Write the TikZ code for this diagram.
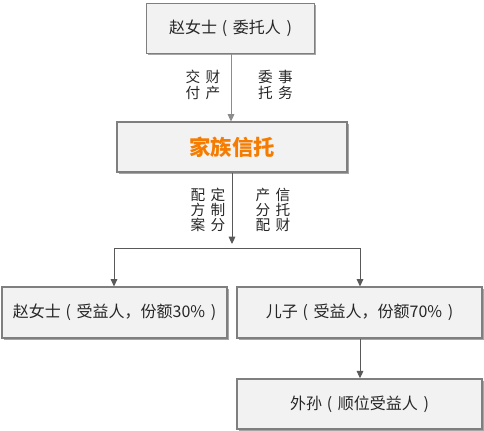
\documentclass[tikz,border=0pt]{standalone}
\usepackage{fontspec}
\setmainfont{Noto Sans CJK SC}
\usetikzlibrary{shadows,arrows.meta}
\definecolor{boxfill}{HTML}{F2F2F2}
\definecolor{boxline}{HTML}{7F7F7F}
\definecolor{lineA}{HTML}{8C8C8C}
\definecolor{lineB}{HTML}{595959}
\definecolor{txt}{HTML}{262626}
\definecolor{trustorange}{HTML}{F57C00}
\newcommand{\myLP}{\hspace{0.3em}(\hspace{0.35em}}
\newcommand{\myRP}{\hspace{0.35em})\hspace{0.3em}}
\tikzset{
  box/.style={draw=boxline, line width=1.1pt, fill=boxfill, inner sep=0pt,
    drop shadow={shadow xshift=1.3pt, shadow yshift=-1.3pt, fill=black, opacity=0.35},
    font=\fontsize{12pt}{14pt}\selectfont, text=txt},
  conn/.style={draw=lineB, line width=0.75pt},
  arr/.style={conn, -{Triangle[length=5.5pt,width=5pt]}},
  lbl/.style={font=\fontsize{11pt}{11.5pt}\selectfont, text=txt, align=center, inner sep=0pt}
}
\begin{document}
\begin{tikzpicture}[x=0.75pt,y=-0.75pt]
\useasboundingbox (0,0) rectangle (484,430);
\node[box, minimum width=126pt, minimum height=37.5pt] (settlor) at (230.5,28.5) {赵女士\myLP 委托人\myRP};
\node[box, minimum width=172.5pt, minimum height=37.5pt, font=\bfseries\fontsize{16pt}{18pt}\selectfont, text=trustorange] (trust) at (232,147) {家族信托};
\node[box, minimum width=168.75pt, minimum height=38pt] (zhao) at (114.5,312.5) {赵女士\myLP 受益人，份额30\%\myRP};
\node[box, minimum width=183.75pt, minimum height=38pt] (son) at (359.5,312.5) {儿子\myLP 受益人，份额70\%\myRP};
\node[box, minimum width=183.75pt, minimum height=37.5pt] (grand) at (359.5,404) {外孙\myLP 顺位受益人\myRP};

\node[lbl] (l1) at (203,85) {交\hspace{4pt}财\\付\hspace{4pt}产};
\node[lbl] (l2) at (275.5,85) {委\hspace{4pt}事\\托\hspace{4pt}务};
\node[lbl] (l3) at (208,210) {配\hspace{4pt}定\\方\hspace{4pt}制\\案\hspace{4pt}分};
\node[lbl] (l4) at (273,210) {产\hspace{4pt}信\\分\hspace{4pt}托\\配\hspace{4pt}财};

\draw[arr, draw=lineA] (231,53.5) coordinate (a0) -- (231,121.5) coordinate (a1);
\coordinate (j) at (232,244);
\draw[arr] (232,172.5) -- (j);
\coordinate (hl) at (114,248);
\coordinate (hr) at (360,248);
\draw[conn] (hl) -- (hr);
\draw[arr] (hl) -- (zhao.north -| hl);
\draw[arr] (hr) -- (son.north -| hr);
\draw[arr] (son.south -| hr) -- (grand.north -| hr);
\end{tikzpicture}
\end{document}
